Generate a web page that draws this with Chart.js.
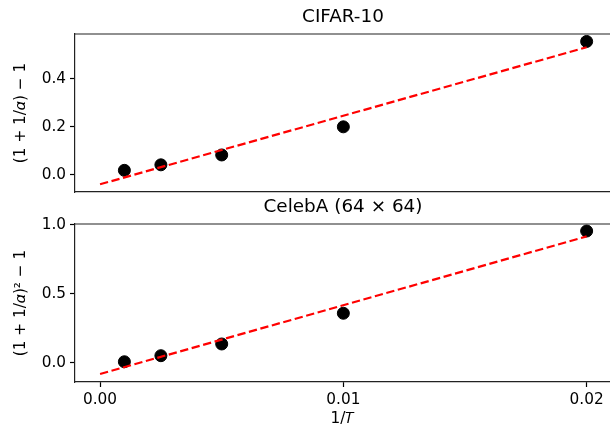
<!DOCTYPE html>
<html>
<head>
<meta charset="utf-8">
<script src="https://cdn.jsdelivr.net/npm/chart.js@4.4.1/dist/chart.umd.min.js"></script>
<style>
    html, body { margin: 0; padding: 0; background: #fff; overflow: hidden; }
    .panel { position: absolute; left: 0; width: 610px; }
    #top-panel { top: 0; height: 200px; }
    #bottom-panel { top: 190px; height: 238px; }
</style>
</head>
<body>
<div class="panel" id="top-panel"><canvas id="cifarChart"></canvas></div>
<div class="panel" id="bottom-panel"><canvas id="celebaChart"></canvas></div>
<script>
// inverse temperature 1/T for each run
const invT = [0.001, 0.0025, 0.005, 0.01, 0.02];

// CIFAR-10: (1 + 1/alpha) - 1
const cifarValues = [0.019, 0.042, 0.083, 0.2, 0.555];
const cifarFitX = [0, 0.02];
const cifarFitY = [-0.039, 0.531];

// CelebA 64x64: (1 + 1/alpha)^2 - 1
const celebaValues = [0.007, 0.051, 0.136, 0.359, 0.956];
const celebaFitX = [0, 0.02];
const celebaFitY = [-0.082, 0.917];

// tick labels
const xTicks = [0, 0.01, 0.02];
const xTickLabels = ['0.00', '0.01', '0.02'];
const cifarYTicks = [0, 0.2, 0.4];
const cifarYTickLabels = ['0.0', '0.2', '0.4'];
const celebaYTicks = [0, 0.5, 1.0];
const celebaYTickLabels = ['0.0', '0.5', '1.0'];

const FONT = "'DejaVu Sans', sans-serif";
const INK = '#000';
const SPINE = '#222';

// subplot title + top spine (right spine falls just outside the picture)
const panelTitle = {
    id: 'panelTitle',
    afterDraw(chart, args, opts) {
        const ctx = chart.ctx;
        const area = chart.chartArea;
        ctx.save();
        ctx.strokeStyle = SPINE;
        ctx.lineWidth = 1.2;
        ctx.beginPath();
        ctx.moveTo(area.left, area.top);
        ctx.lineTo(area.right, area.top);
        ctx.stroke();
        ctx.font = `18.4px ${FONT}`;
        ctx.fillStyle = INK;
        ctx.textAlign = 'center';
        ctx.textBaseline = 'middle';
        ctx.fillText(opts.text, (area.left + 611) / 2, area.top - opts.offset);
        ctx.restore();
    }
};

function points(xs, ys) {
    return xs.map((x, i) => ({ x: x, y: ys[i] }));
}

function makePanel(canvasId, cfg) {
    const ctx = document.getElementById(canvasId).getContext('2d');
    return new Chart(ctx, {
        type: 'scatter',
        data: {
            datasets: [
                {
                    type: 'line',
                    data: points(cfg.fitX, cfg.fitY),
                    borderColor: '#ff0000',
                    borderWidth: 2.2,
                    borderDash: [8.3, 3.6],
                    pointRadius: 0,
                    fill: false,
                    order: 0
                },
                {
                    data: points(invT, cfg.values),
                    backgroundColor: INK,
                    borderColor: INK,
                    pointRadius: 6,
                    pointHoverRadius: 6,
                    order: 1
                }
            ]
        },
        options: {
            responsive: true,
            maintainAspectRatio: false,
            animation: false,
            events: [],
            layout: {
                autoPadding: false,
                padding: { top: cfg.padTop, left: 8, right: 0, bottom: 0 }
            },
            plugins: {
                legend: { display: false },
                tooltip: { enabled: false },
                panelTitle: { text: cfg.title, offset: 17 }
            },
            scales: {
                x: {
                    type: 'linear',
                    min: -0.00103,
                    max: 0.02096,
                    grid: { drawOnChartArea: false, drawTicks: cfg.showX, tickLength: 5, tickColor: INK, tickWidth: 1.2 },
                    border: { display: true, color: SPINE, width: 1.2 },
                    ticks: {
                        display: cfg.showX,
                        padding: 4,
                        color: INK,
                        font: { family: FONT, size: 15.3 },
                        callback: (v) => xTickLabels[xTicks.indexOf(v)]
                    },
                    afterBuildTicks: (scale) => { scale.ticks = xTicks.map(v => ({ value: v })); },
                    afterFit: (scale) => {
                        scale.height = cfg.xHeight;
                        scale.paddingLeft = 0;
                        scale.paddingRight = 0;
                    },
                    title: {
                        display: cfg.showX,
                        text: '1/𝑇',
                        color: INK,
                        font: { family: FONT, size: 15.3 },
                        padding: { top: 0, bottom: 0 }
                    }
                },
                y: {
                    type: 'linear',
                    min: cfg.yMin,
                    max: cfg.yMax,
                    grid: { drawOnChartArea: false, drawTicks: true, tickLength: 5, tickColor: INK, tickWidth: 1.2 },
                    border: { display: true, color: SPINE, width: 1.2 },
                    ticks: {
                        padding: 4,
                        color: INK,
                        font: { family: FONT, size: 15.3 },
                        callback: (v) => cfg.yTickLabels[cfg.yTicks.indexOf(v)]
                    },
                    afterBuildTicks: (scale) => { scale.ticks = cfg.yTicks.map(v => ({ value: v })); },
                    afterFit: (scale) => {
                        scale.width = 67;
                        scale.paddingTop = 0;
                        scale.paddingBottom = 0;
                    },
                    title: {
                        display: true,
                        text: cfg.yTitle,
                        color: INK,
                        font: { family: FONT, size: 15.3 },
                        padding: { top: 4, bottom: 4 }
                    }
                }
            }
        },
        plugins: [panelTitle]
    });
}

makePanel('cifarChart', {
    title: 'CIFAR-10',
    padTop: 34,
    values: cifarValues,
    fitX: cifarFitX,
    fitY: cifarFitY,
    yMin: -0.071,
    yMax: 0.586,
    yTicks: cifarYTicks,
    yTickLabels: cifarYTickLabels,
    yTitle: '(1 + 1/𝛼) − 1',
    showX: false,
    xHeight: 8
});

makePanel('celebaChart', {
    title: 'CelebA (64 × 64)',
    padTop: 34,
    values: celebaValues,
    fitX: celebaFitX,
    fitY: celebaFitY,
    yMin: -0.140,
    yMax: 1.007,
    yTicks: celebaYTicks,
    yTickLabels: celebaYTickLabels,
    yTitle: '(1 + 1/𝛼)² − 1',
    showX: true,
    xHeight: 46
});
</script>
</body>
</html>
